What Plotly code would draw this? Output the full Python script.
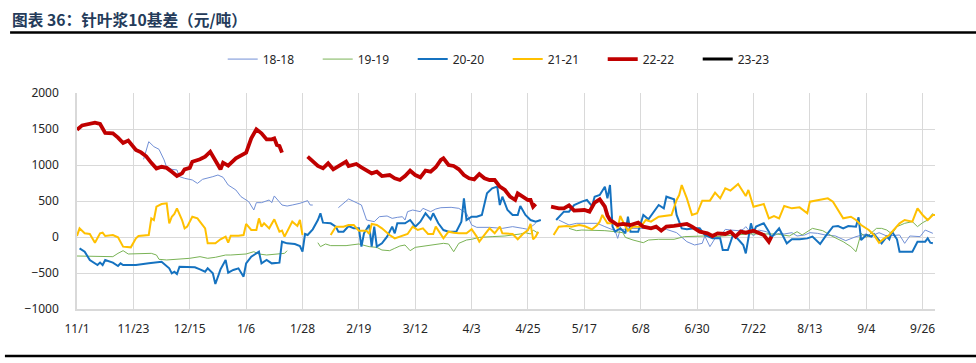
import plotly.graph_objects as go

# ---- data ----
tick_labels = ["11/1", "11/23", "12/15", "1/6", "1/28", "2/19", "3/12", "4/3",
               "4/25", "5/17", "6/8", "6/30", "7/22", "8/13", "9/4", "9/26"]

d_18 = ["11/27","11/29","12/1","12/3","12/5","12/6","12/8","12/10","12/11","12/13","12/16","12/18",
        "12/20","12/22","12/24","12/26","12/28","12/30","1/2","1/4","1/7","1/9","1/10","1/12","1/15",
        "1/16","1/17","1/20","1/22","1/24","1/27","1/30","1/31","2/1","2/5","2/11","2/15","2/20","2/22",
        "2/25","2/27","3/1","3/3","3/5","3/7","3/8","3/9","3/11","3/14","3/15","3/18","3/20","3/22",
        "3/26","3/29","4/1","4/3","4/5","4/10","4/15","4/19","4/23","4/25","4/28","5/1","5/7","5/11",
        "5/14","5/19","5/22","5/25","5/29","5/30","5/31","6/5","6/12","6/18","6/22","6/26","6/29","7/2",
        "7/3","7/5","7/7","7/9","7/11","7/13","7/16","7/18","7/19","7/22","7/24","7/27","7/29","8/1",
        "8/3","8/6","8/8","8/11","8/13","8/16","8/19","8/23","8/27","8/31","9/4","9/6","9/9","9/12",
        "9/17","9/19","9/21","9/25","9/27","9/30"]
v_18 = [1079,1324,1255,1218,1070,968,940,931,838,815,792,745,
        801,815,838,861,829,722,653,560,491,375,477,477,514,
        477,570,444,430,444,468,505,444,444,None,407,528,444,236,
        213,282,292,259,273,282,236,352,375,352,398,352,389,407,
        412,398,329,167,134,134,120,144,120,106,190,None,236,167,
        190,185,190,144,88,-19,102,120,120,106,60,-65,-111,-88,
        14,-134,-19,5,106,97,88,106,144,14,97,74,5,51,
        42,60,14,28,60,51,28,14,-51,5,42,14,60,14,
        28,-88,14,5,97,51]

d_19 = ["11/1","11/15","11/17","11/19","11/21","11/24","11/30","12/2","12/3","12/6","12/11","12/15",
        "12/19","12/22","12/25","12/29","12/31","1/6","1/9","1/11","1/14","1/19","1/21","1/22","1/25",
        "2/3","2/4","2/6","2/8","2/14","2/19","2/23","2/26","2/28","3/2","3/4","3/6","3/8","3/10",
        "3/12","3/16","3/20","3/23","3/25","3/27","3/29","4/1","4/3","4/6","4/11","4/16","4/22","4/24",
        "4/26","4/27","4/29","5/2","5/11","5/14","5/16","5/21","5/25","5/29","6/1","6/2","6/5","6/9",
        "6/11","6/15","6/21","6/25","6/29","7/3","7/7","7/11","7/15","7/20","7/26","7/31","8/5","8/8",
        "8/10","8/14","8/18","8/22","8/26","8/29","8/31","9/2","9/4","9/6","9/8","9/10","9/12","9/14",
        "9/16","9/19","9/22","9/24","9/26","9/28","9/30"]
v_19 = [-264,-273,-227,-190,-236,-236,-227,-250,-310,-319,-310,-296,
        -273,-296,-282,-250,-250,-236,-204,-236,-250,-236,-227,-190,None,
        -79,-134,-97,-120,-120,-97,-134,-144,-181,-190,-157,-125,-111,-190,
        -144,-125,-111,-88,-97,-204,-88,-42,-32,-5,5,14,42,60,
        42,97,51,None,120,88,97,97,88,74,60,-5,-42,-79,
        -42,-32,-32,5,14,14,5,14,28,42,42,42,14,74,
        28,120,88,5,-65,-134,-204,51,-5,60,120,120,97,42,
        144,190,213,144,199,236,329]

d_20 = ["11/2","11/4","11/6","11/9","11/10","11/11","11/12","11/15","11/17","11/18","11/19","11/24",
        "11/29","12/3","12/4","12/7","12/8","12/9","12/10","12/11","12/15","12/17","12/19","12/21",
        "12/22","12/24","12/25","12/27","12/29","12/30","1/1","1/3","1/5","1/6","1/8","1/10","1/11",
        "1/12","1/14","1/16","1/19","1/20","1/22","1/25","1/27","1/28","1/29","1/30","2/1","2/3","2/4",
        "2/5","2/8","2/10","2/11","2/13","2/15","2/17","2/19","2/20","2/21","2/23","2/24","2/25","2/26",
        "2/28","3/1","3/3","3/4","3/5","3/8","3/10","3/12","3/14","3/16","3/18","3/19","3/21","3/23",
        "3/25","3/28","3/30","3/31","4/1","4/3","4/5","4/7","4/9","4/11","4/13","4/14","4/15","4/17",
        "4/19","4/21","4/22","4/24","4/26","4/28","4/30","5/2","5/6","5/9","5/11","5/13","5/16","5/18",
        "5/20","5/21","5/23","5/25","5/26","5/27","5/28","5/29","5/31","6/2","6/3","6/4","6/7","6/9",
        "6/11","6/13","6/15","6/17","6/18","6/21","6/22","6/24","6/26","6/29","7/1","7/3","7/6","7/9",
        "7/10","7/12","7/14","7/16","7/18","7/19","7/21","7/22","7/23","7/26","7/28","7/29","8/1","8/4",
        "8/6","8/9","8/12","8/14","8/17","8/19","8/22","8/24","8/26","8/28","8/31","9/1","9/2","9/4",
        "9/6","9/7","9/10","9/12","9/13","9/14","9/16","9/17","9/19","9/22","9/24","9/27","9/28","9/29",
        "9/30"]
v_20 = [-157,-204,-319,-389,-356,-389,-319,-356,-403,-366,-389,-389,
        -366,-343,-343,-435,-505,-482,-514,-412,-412,-421,-449,-482,
        -435,-505,-653,-449,-319,-495,-458,-435,-551,-366,-273,-227,-204,
        -366,-319,-366,-356,-65,-88,-97,-125,-204,42,28,107,236,329,
        199,190,144,74,74,153,120,120,-134,51,167,-134,144,-134,
        -88,5,144,51,190,190,236,144,213,329,245,329,190,97,
        74,74,213,537,236,282,282,306,606,676,699,444,560,375,
        306,306,430,306,236,213,236,None,236,352,352,444,491,514,
        430,560,583,699,537,722,144,74,120,51,282,74,74,306,
        245,352,444,398,560,523,306,120,107,120,120,28,-19,-19,
        -181,-181,28,-32,-111,-227,190,60,144,190,74,-5,120,-88,
        -32,-32,-19,5,-97,5,144,153,120,153,144,273,-42,28,
        5,42,-88,5,-32,74,-32,-204,-204,-204,-65,-65,-19,-79,
        -88]

d_21 = ["11/1","11/2","11/4","11/6","11/8","11/10","11/11","11/12","11/15","11/17","11/19","11/22",
        "11/24","11/25","11/29","11/30","12/1","12/2","12/4","12/6","12/7","12/8","12/9","12/10",
        "12/12","12/13","12/14","12/16","12/18","12/21","12/22","12/25","12/27","12/29","12/30",
        "12/31","1/3","1/5","1/6","1/8","1/10","1/11","1/12","1/13","1/15","1/17","1/19","1/20",
        "1/21","1/24","1/26","1/27","1/28","2/3","2/8","2/10","2/13","2/15","2/17","2/19","2/22",
        "2/23","2/24","2/26","2/28","3/1","3/2","3/4","3/6","3/8","3/9","3/11","3/13","3/15","3/17",
        "3/19","3/20","3/23","3/25","3/27","3/29","4/1","4/3","4/5","4/6","4/8","4/10","4/12","4/14",
        "4/15","4/17","4/19","4/21","4/23","4/25","4/26","4/27","4/28","4/29","5/2","5/5","5/7",
        "5/10","5/12","5/15","5/17","5/20","5/22","5/23","5/24","5/26","5/29","5/30","5/31","6/2",
        "6/3","6/5","6/8","6/10","6/12","6/15","6/17","6/20","6/22","6/23","6/24","6/26","6/28",
        "6/30","7/2","7/5","7/7","7/9","7/11","7/13","7/16","7/19","7/20","7/22","7/26","7/28",
        "7/30","8/1","8/3","8/6","8/9","8/12","8/13","8/17","8/20","8/22","8/24","8/26","8/29",
        "8/31","9/2","9/5","9/7","9/9","9/11","9/13","9/17","9/19","9/22","9/24","9/26","9/28",
        "9/30","10/1"]
v_21 = [14,120,51,42,-79,51,60,14,28,-5,-134,-144,
        -19,14,28,259,236,421,458,468,190,282,319,398,
        236,120,144,282,259,120,-88,-88,-32,5,-79,
        19,19,28,181,97,97,259,144,190,120,245,74,88,
        5,213,153,236,28,None,28,144,144,167,167,88,88,
        42,181,167,120,51,28,-19,5,28,42,144,97,120,42,
        42,144,-19,74,60,51,51,107,5,-65,28,120,51,144,
        51,51,42,-32,42,97,181,-32,5,74,None,28,144,
        153,144,167,153,107,167,213,306,190,190,120,292,144,
        88,144,144,236,213,282,292,306,514,583,722,537,306,
        329,505,505,616,537,676,644,736,569,653,421,458,259,
        292,259,431,398,412,329,491,514,537,491,384,259,282,
        236,167,97,28,-79,-19,28,190,236,213,398,306,236,
        306,306]

d_22 = ["11/1","11/3","11/8","11/10","11/12","11/15","11/17","11/19","11/21","11/23","11/24","11/26",
        "11/28","11/30","12/1","12/2","12/4","12/6","12/8","12/10","12/12","12/13","12/15","12/16",
        "12/19","12/21","12/23","12/25","12/27","12/28","12/30","1/2","1/4","1/6","1/8","1/10","1/12",
        "1/14","1/16","1/17","1/18","1/19","1/20","1/25","1/30","2/1","2/3","2/5","2/7","2/9","2/11",
        "2/14","2/15","2/18","2/20","2/22","2/24","2/26","2/28","3/2","3/4","3/6","3/8","3/10","3/12",
        "3/14","3/16","3/18","3/20","3/22","3/23","3/25","3/27","3/29","3/31","4/2","4/4","4/6","4/8",
        "4/10","4/12","4/14","4/16","4/18","4/20","4/21","4/23","4/25","4/26","4/27","4/28","5/1",
        "5/4","5/7","5/9","5/11","5/13","5/15","5/17","5/19","5/21","5/23","5/25","5/26","5/27","5/28",
        "5/30","6/1","6/4","6/7","6/9","6/12","6/14","6/16","6/18","6/21","6/23","6/26","6/28","7/1",
        "7/4","7/6","7/8","7/11","7/13","7/15","7/17","7/19","7/22","7/24","7/26","7/28","7/29"]
v_22 = [1490,1550,1588,1570,1445,1440,1380,1305,1340,1250,1210,1175,
        1120,1030,990,950,975,960,905,847,884,940,960,1046,
        1079,1116,1185,1070,940,1032,991,1093,1125,1171,1370,1495,1440,
        1356,1356,1370,1278,1264,1171,None,1116,1046,986,954,1023,940,986,
        1046,986,1014,968,921,884,907,847,861,815,792,847,921,861,
        829,921,907,968,1070,1093,1000,986,940,861,815,801,875,815,
        792,792,699,653,560,514,606,560,514,514,421,458,None,
        421,398,398,440,366,375,375,352,477,523,421,300,236,213,
        167,181,167,199,144,120,144,88,144,153,167,181,144,74,
        51,14,51,42,74,5,74,60,88,60,28,-65,5]


def to_date(md):
    m, d = md.split("/")
    year = 2023 if int(m) >= 11 else 2024
    return f"{year}-{int(m):02d}-{int(d):02d}"


series = [
    ("18-18", d_18, v_18, "#7290D6", 1.0),
    ("19-19", d_19, v_19, "#7AB356", 1.0),
    ("20-20", d_20, v_20, "#1572C0", 2.0),
    ("21-21", d_21, v_21, "#FFC000", 2.0),
    ("22-22", d_22, v_22, "#C00000", 3.8),
]

fig = go.Figure()
for name, ds, vs, color, w in series:
    fig.add_trace(go.Scatter(
        x=[to_date(s) for s in ds], y=vs, name=name, mode="lines",
        line=dict(color=color, width=w), connectgaps=False,
    ))
fig.add_trace(go.Scatter(x=[None], y=[None], name="23-23", mode="lines",
                         line=dict(color="#000000", width=3)))

tick_vals = [to_date(s) for s in tick_labels]

fig.update_layout(
    width=976, height=363,
    margin=dict(l=77, r=41, t=93, b=54),
    paper_bgcolor="white", plot_bgcolor="white",
    font=dict(family="Noto Sans, sans-serif", size=12, color="#262626"),
    showlegend=True,
    legend=dict(orientation="h", x=0.502, xanchor="center", y=1.157, yanchor="middle",
                font=dict(size=12, color="#262626"), entrywidth=50,
                bgcolor="rgba(0,0,0,0)", traceorder="normal"),
    xaxis=dict(type="date", range=["2023-11-01", "2024-09-30 20:00"],
               tickmode="array", tickvals=tick_vals, ticktext=tick_labels,
               showgrid=True, gridcolor="#D9D9D9", gridwidth=1,
               showline=True, linecolor="#D9D9D9", linewidth=1.5,
               ticks="", tickfont=dict(size=12, color="#262626"), zeroline=False,
               ticklabelstandoff=8),
    yaxis=dict(range=[-1000, 2000], tickvals=[-1000, -500, 0, 500, 1000, 1500, 2000],
               showgrid=True, gridcolor="#D9D9D9", gridwidth=1,
               showline=True, linecolor="#D9D9D9", linewidth=1.5,
               ticks="", tickfont=dict(size=12, color="#262626"), zeroline=False,
               ticklabelstandoff=14),
    shapes=[
        dict(type="line", xref="paper", yref="paper", x0=-0.078, x1=1.05, y0=1.28, y1=1.28,
             line=dict(color="black", width=2.5)),
        dict(type="line", xref="paper", yref="paper", x0=-0.084, x1=1.05, y0=-0.218, y1=-0.218,
             line=dict(color="black", width=2.5)),
    ],
    annotations=[
        dict(text="<b>图表 36：针叶浆10基差（元/吨）</b>", xref="paper", yref="paper",
             x=-0.078, y=1.34, xanchor="left", yanchor="middle", showarrow=False,
             font=dict(family="Noto Sans CJK SC, sans-serif", size=15.7, color="#243B5A")),
    ],
)

fig.write_html("out.html", config={"displayModeBar": False},
               post_script="document.body.style.margin='0px';")
